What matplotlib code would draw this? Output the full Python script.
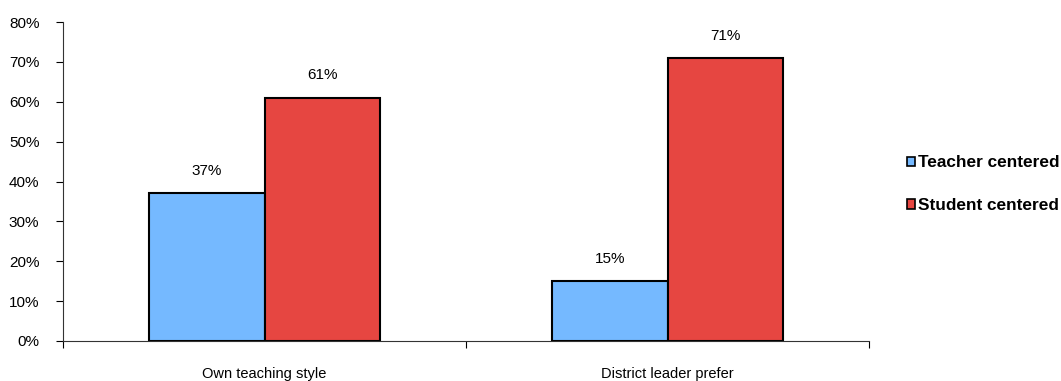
import matplotlib
matplotlib.use("Agg")
import matplotlib.pyplot as plt
from matplotlib.patches import Patch
import numpy as np

categories = ["Own teaching style", "District leader prefer"]
teacher = [37, 15]
student = [61, 71]
series_names = ["Teacher centered", "Student centered"]
yticks = [0, 10, 20, 30, 40, 50, 60, 70, 80]

plt.rcParams['font.family'] = ['Liberation Sans', 'DejaVu Sans']

W, H = 1061, 381
fig = plt.figure(figsize=(W/100, H/100), dpi=100)
ax = fig.add_axes([63/W, 1-341/H, (869-63)/W, (341-22)/H])

blue = "#75B9FF"
red = "#E64641"
x = np.arange(len(categories))
bw = 0.286
b1 = ax.bar(x - bw/2, teacher, bw, color=blue, edgecolor="black", linewidth=1.5)
b2 = ax.bar(x + bw/2, student, bw, color=red, edgecolor="black", linewidth=1.5)
for bars, vals in [(b1, teacher), (b2, student)]:
    for r, v in zip(bars, vals):
        ax.annotate(f"{v}%", (r.get_x() + r.get_width()/2, v), xytext=(0, 11),
                    textcoords="offset points", ha="center", va="bottom", fontsize=11)

ax.set_xlim(-0.5, 1.5)
ax.set_ylim(0, 80)
ax.set_yticks(yticks)
ax.set_yticklabels([f"{t}%" for t in yticks], fontsize=11)
ax.set_xticks([-0.5, 0.5, 1.5])
ax.set_xticklabels([])
ax.set_xticks(x, minor=True)
ax.set_xticklabels(categories, minor=True, fontsize=10.5)
ax.tick_params(axis="x", which="minor", length=0, pad=19)
ax.tick_params(axis="x", which="major", length=5, direction="out")
ax.tick_params(axis="y", length=5, direction="out", pad=12)
for s in ["top", "right"]:
    ax.spines[s].set_visible(False)
ax.spines["left"].set_color("#333333")
ax.spines["bottom"].set_color("#333333")

handles = [Patch(facecolor=blue, edgecolor="black", linewidth=1.2),
           Patch(facecolor=red, edgecolor="black", linewidth=1.2)]
fig.legend(handles, series_names, loc="upper left", bbox_to_anchor=(891/W, 1-140/H),
           frameon=False, handlelength=0.48, handleheight=0.48, handletextpad=0.18,
           labelspacing=1.6, prop={"weight": "bold", "size": 12.4})

fig.savefig("out.png", dpi=100)
